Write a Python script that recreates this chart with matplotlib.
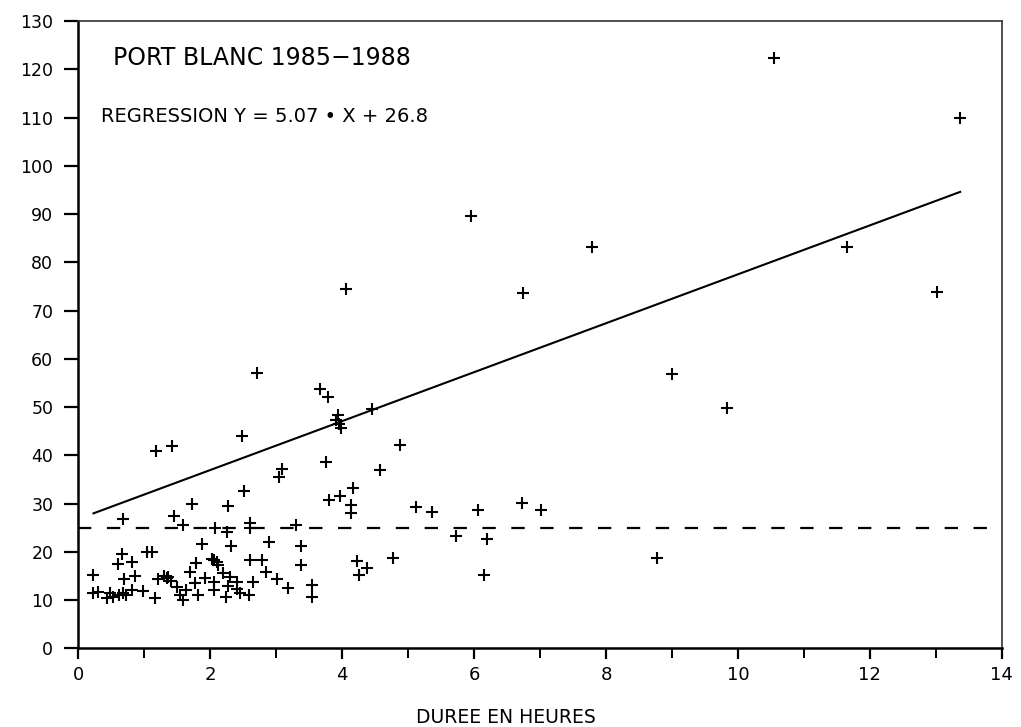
import numpy as np
import matplotlib
matplotlib.use("Agg")
import matplotlib.pyplot as plt
from matplotlib.ticker import MultipleLocator

duree = [10.55, 13.37, 5.96, 7.79, 11.66, 4.06, 6.74, 13.02, 2.71, 9.00,
         3.66, 3.79, 9.83, 4.45, 3.93, 3.91, 3.95, 3.98, 2.48, 4.88,
         1.42, 1.18, 3.76, 3.09, 4.58, 3.05, 4.17, 2.51, 3.97, 3.80,
         6.72, 1.72, 4.13, 2.27, 5.12, 6.06, 7.02, 5.36, 4.13, 1.45,
         0.68, 2.60, 1.58, 3.30, 2.07, 2.60, 2.25, 5.72, 6.20, 2.89,
         1.87, 3.38, 2.31, 1.04, 1.11, 0.66, 8.77, 4.77, 2.60, 2.78,
         2.05, 2.02, 2.10, 4.22, 0.81, 1.78, 0.60, 3.38, 2.12, 4.38,
         1.69, 2.84, 2.20, 0.23, 6.15, 4.26, 1.30, 0.86, 2.30, 1.36,
         1.92, 1.35, 0.70, 1.21, 3.02, 1.40, 2.05, 2.40, 2.65, 1.77,
         3.55, 1.49, 3.18, 2.40, 1.64, 0.81, 0.98, 0.30, 0.23, 0.48,
         0.68, 2.45, 0.61, 0.73, 1.54, 1.82, 2.59, 0.53, 2.24, 3.54,
         1.16, 0.43, 1.59, 2.06, 2.27]
valeur = [122.3, 109.8, 89.6, 83.2, 83.2, 74.5, 73.7, 73.9, 57.1, 56.8,
          53.7, 52.1, 49.9, 49.6, 48.3, 47.3, 46.4, 45.6, 44.0, 42.2,
          42.0, 40.9, 38.7, 37.1, 36.9, 35.4, 33.2, 32.5, 31.6, 30.7,
          30.1, 29.9, 29.6, 29.5, 29.2, 28.7, 28.7, 28.2, 28.0, 27.5,
          26.8, 26.0, 25.6, 25.6, 24.9, 24.9, 24.0, 23.2, 22.7, 22.0,
          21.6, 21.3, 21.1, 19.9, 19.9, 19.5, 18.8, 18.8, 18.4, 18.4,
          18.3, 18.6, 17.8, 18.1, 17.9, 17.6, 17.4, 17.3, 17.3, 16.6,
          15.8, 15.8, 15.7, 15.2, 15.2, 15.2, 15.0, 14.9, 14.8, 14.8,
          14.6, 14.5, 14.4, 14.4, 14.3, 14.0, 13.8, 13.8, 13.8, 13.5,
          13.1, 12.8, 12.6, 12.2, 12.1, 12.0, 11.9, 11.7, 11.5, 11.4,
          11.4, 11.4, 11.0, 11.0, 11.0, 11.0, 11.0, 10.7, 10.6, 10.6,
          10.5, 10.4, 10.0, 12.1, 12.9]

pente = 5.07
ordonnee = 26.8
seuil = 25
x_ticks = [0, 2, 4, 6, 8, 10, 12, 14]
y_ticks = list(range(0, 131, 10))

titre = "PORT BLANC 1985\u22121988"
texte_reg = "REGRESSION Y = 5.07 \u2022 X + 26.8"
xlabel = "DUREE EN HEURES"

fig = plt.figure(figsize=(10.21, 7.27), dpi=100)
ax = fig.add_axes([78.3 / 1021, 1 - 648.3 / 727, (1001.7 - 78.3) / 1021, (648.3 - 21) / 727])

ax.plot(duree, valeur, linestyle="none", marker="+", markersize=8,
        markeredgewidth=1.5, color="black")

xr = np.array([min(duree), max(duree)])
ax.plot(xr, pente * xr + ordonnee, color="black", linewidth=1.5)
ax.plot([0, 14], [seuil, seuil], color="black", linewidth=1.6,
        dashes=(6, 7))

ax.set_xlim(0, 14)
ax.set_ylim(0, 130)
ax.set_xticks(x_ticks)
ax.set_yticks(y_ticks)
ax.xaxis.set_minor_locator(MultipleLocator(1))

ax.tick_params(axis="y", direction="out", length=10, width=1.6, labelsize=12.5, pad=8)
ax.tick_params(axis="x", which="major", direction="out", length=8, width=1.6, labelsize=13, pad=5)
ax.tick_params(axis="x", which="minor", direction="out", length=7, width=1.4)

for s in ["left", "bottom"]:
    ax.spines[s].set_linewidth(1.8)
for s in ["top", "right"]:
    ax.spines[s].set_linewidth(1.2)
    ax.spines[s].set_color("#333333")

ax.text(0.0376, 0.930, titre, transform=ax.transAxes, fontsize=17,
        va="baseline", ha="left")
ax.text(0.0246, 0.839, texte_reg, transform=ax.transAxes, fontsize=14,
        va="baseline", ha="left")

ax.set_xlabel(xlabel, fontsize=13.5)
ax.xaxis.set_label_coords((506 - 78.3) / 923.4, -0.095)

fig.savefig("out.png", dpi=100, facecolor="white")
